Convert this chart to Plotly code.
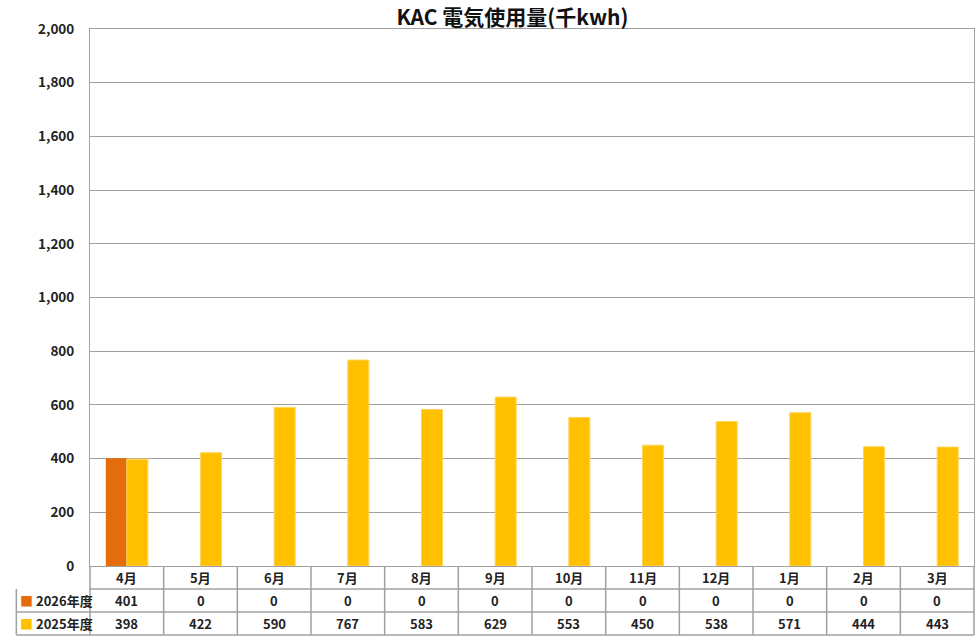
import plotly.graph_objects as go

# monthly electricity use (thousand kWh)
months = ["4月", "5月", "6月", "7月", "8月", "9月", "10月", "11月", "12月", "1月", "2月", "3月"]
fy2026 = [401, 0, 0, 0, 0, 0, 0, 0, 0, 0, 0, 0]
fy2025 = [398, 422, 590, 767, 583, 629, 553, 450, 538, 571, 444, 443]
series_names = ["2026年度", "2025年度"]
y_ticks = list(range(0, 2001, 200))

c26 = "#E46C0A"
c25 = "#FFC000"
grid = "#A0A0A0"
font = "Noto Sans CJK JP"

fig = go.Figure()
fig.add_trace(go.Bar(x=months, y=fy2026, name=series_names[0], marker_color=c26,
                     marker_line_width=0))
fig.add_trace(go.Bar(x=months, y=fy2025, name=series_names[1], marker_color=c25,
                     marker_line=dict(color="#FFD35A", width=1)))

fig.update_layout(
    width=976, height=638,
    margin=dict(l=90, r=2, t=29, b=72),
    paper_bgcolor="white", plot_bgcolor="white",
    barmode="group", bargap=0.43, bargroupgap=0,
    showlegend=False,
    font=dict(family=font, color="#222"),
    title=dict(text="<b>KAC 電気使用量(千kwh)</b>", x=0.525, xanchor="center",
               y=0.973, yanchor="middle", font=dict(size=21, color="#111")),
)
fig.update_yaxes(range=[0, 2000], tickvals=y_ticks, tickformat=",",
                 showgrid=True, gridcolor=grid, gridwidth=1,
                 showline=True, linecolor=grid, linewidth=1, mirror=True,
                 ticks="", ticklabelstandoff=12,
                 tickfont=dict(size=13.5, weight="bold"))
fig.update_xaxes(showticklabels=False, showline=True, linecolor=grid,
                 linewidth=1, mirror=True, ticks="")

# data table under the plot
n = len(months)
plot_h = 638 - 29 - 72
row_h = 23 / plot_h
rows_y = [0, -row_h, -2 * row_h, -3 * row_h]
line = dict(color=grid, width=1.5)

fig.add_shape(type="line", xref="paper", yref="paper", x0=0, x1=1,
              y0=rows_y[1], y1=rows_y[1], line=line)
for yy in rows_y[2:]:
    fig.add_shape(type="line", xref="paper", yref="paper", x0=-1 / n, x1=1,
                  y0=yy, y1=yy, line=line)
fig.add_shape(type="line", xref="paper", yref="paper", x0=-1 / n, x1=-1 / n,
              y0=rows_y[1], y1=rows_y[3], line=line)
for k in range(n + 1):
    fig.add_shape(type="line", xref="paper", yref="paper", x0=k / n, x1=k / n,
                  y0=0, y1=rows_y[3], line=line)

cell_font = dict(size=13, weight="bold", color="#222")
for i, m in enumerate(months):
    for r, val in enumerate([m, fy2026[i], fy2025[i]]):
        fig.add_annotation(x=m, xref="x", y=(rows_y[r] + rows_y[r + 1]) / 2,
                           yref="paper", text=str(val), showarrow=False,
                           font=cell_font, xanchor="center", yanchor="middle")

for r, (name, col) in enumerate(zip(series_names, [c26, c25]), start=1):
    fig.add_annotation(x=-1 / n, xref="paper", xanchor="left", xshift=2,
                       y=(rows_y[r] + rows_y[r + 1]) / 2, yref="paper",
                       text=f"<span style='color:{col}'>■</span> {name}",
                       showarrow=False, font=cell_font, yanchor="middle")

# drop the default page margin so the figure fills the window
fig.write_html("out.html", config={"displayModeBar": False},
               post_script="document.body.style.margin='0';")
